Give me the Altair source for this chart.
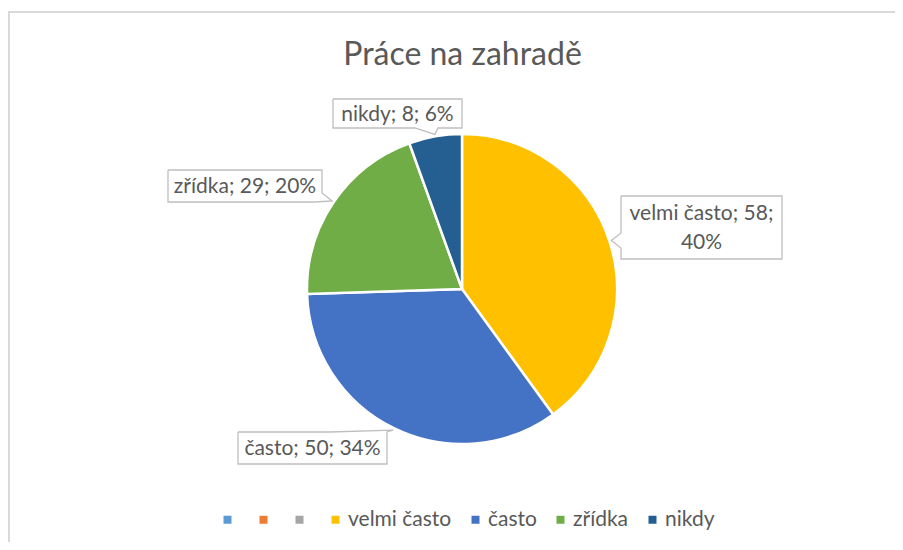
import math
import altair as alt
import pandas as pd

# ---------------- data ----------------
title_text = "Práce na zahradě"
categories = ["velmi často", "často", "zřídka", "nikdy"]
values = [58, 50, 29, 8]
blank_series = ["_1", "_2", "_3"]          # empty legend entries
palette = ["#5B9BD5", "#ED7D31", "#A5A5A5", "#FFC000", "#4472C4", "#70AD47", "#255E91"]

# ---------------- layout (page pixels) ----------------
RIGHT, BOTTOM = 895, 542          # drawable page area (8px margin)
CX, CY, R = 462, 289, 155
FONT = "Lato"
TXT = "#595959"
LINE_H = 29
box_x1 = [621, 238, 168, 333]
box_x2 = [782, 387, 322, 462]
box_y1 = [196, 432, 170, 99]
box_y2 = [259, 464, 202, 128]
wrap = [True, False, False, False]

total = sum(values)
pct = [round(v / total * 100) for v in values]

# label text
labels = []
for c, v, p, w in zip(categories, values, pct, wrap):
    sep = ";\n" if w else "; "
    labels.append(f"{c}; {v}{sep}{p}%")

# mid angles (clockwise from 12 o'clock)
mids = []
acc = 0
for v in values:
    a0 = acc / total * 2 * math.pi
    acc += v
    a1 = acc / total * 2 * math.pi
    mids.append((a0 + a1) / 2)

def polar(a, r):
    return CX + r * math.sin(a), CY - r * math.cos(a)

tips = [polar(m, 157) for m in mids]

# callout outlines
outline_rows = []
for i, c in enumerate(categories):
    x1, x2, y1, y2 = box_x1[i], box_x2[i], box_y1[i], box_y2[i]
    tx, ty = tips[i]
    if i == 0:   # notch on left edge
        pts = [(x1, y1), (x2, y1), (x2, y2), (x1, y2), (x1, 248), (tx, ty), (x1, 233), (x1, y1)]
    elif i == 1:  # wedge on top edge to the right corner
        pts = [(x1, y1), (330, y1), (tx, ty), (x2, y1), (x2, y2), (x1, y2), (x1, y1)]
    elif i == 2:  # notch at bottom-right corner
        pts = [(x1, y1), (x2, y1), (x2, 193), (tx, ty), (315, y2), (x1, y2), (x1, y1)]
    else:         # notch on bottom edge
        pts = [(x1, y1), (x2, y1), (x2, y2), (438, y2), (tx, ty), (415, y2), (x1, y2), (x1, y1)]
    for k, (px, py) in enumerate(pts):
        outline_rows.append({"cat": c, "seq": k, "x": px, "y": py})

pie_df = pd.DataFrame({"cat": categories, "value": values, "ord": list(range(len(values)))})
lab_df = pd.DataFrame({
    "cat": categories, "label": labels,
    "x1": box_x1, "x2": box_x2, "y1": box_y1, "y2": box_y2,
})
nlines = [lab.count("\n") + 1 for lab in labels]
lab_df["tx"] = (lab_df["x1"] + lab_df["x2"]) / 2
lab_df["ty"] = [(a + b) / 2 + 1 - (n - 1) * LINE_H / 2 for a, b, n in zip(box_y1, box_y2, nlines)]
out_df = pd.DataFrame(outline_rows)

xs = alt.Scale(domain=[8, RIGHT], nice=False, zero=False)
ys = alt.Scale(domain=[BOTTOM, 8], nice=False, zero=False)

color_domain = blank_series + categories

pie = alt.Chart(pie_df).mark_arc(outerRadius=R, stroke="white", strokeWidth=2.5).encode(
    theta=alt.Theta("value:Q", stack=True),
    order=alt.Order("ord:Q"),
    color=alt.Color(
        "cat:N",
        scale=alt.Scale(domain=color_domain, range=palette),
        legend=alt.Legend(
            title=None, orient="none", legendX=209, legendY=501,
            direction="horizontal", columns=7,
            symbolType="square", symbolSize=64, symbolStrokeWidth=0,
            labelFont=FONT, labelFontSize=21, labelColor=TXT,
            labelOffset=2, columnPadding=13, labelLimit=400,
            labelExpr="substring(datum.label,0,1)=='_' ? '' : datum.label",
        ),
    ),
    x=alt.value(CX - 8),
    y=alt.value(CY - 8),
)

fills = alt.Chart(lab_df).mark_rect(fill="white").encode(
    x=alt.X("x1:Q", scale=xs, axis=None), x2="x2:Q",
    y=alt.Y("y1:Q", scale=ys, axis=None), y2="y2:Q",
)

outlines = alt.Chart(out_df).mark_line(color="#BFBFBF", strokeWidth=1.3).encode(
    x=alt.X("x:Q", scale=xs, axis=None),
    y=alt.Y("y:Q", scale=ys, axis=None),
    detail="cat:N",
    order=alt.Order("seq:Q"),
)

texts = alt.Chart(lab_df).mark_text(
    font=FONT, fontSize=21, color=TXT, align="center", baseline="middle",
    lineBreak="\n", lineHeight=LINE_H,
).encode(
    x=alt.X("tx:Q", scale=xs, axis=None),
    y=alt.Y("ty:Q", scale=ys, axis=None),
    text="label:N",
)

title_df = pd.DataFrame({"t": [title_text], "x": [462.5], "y": [65]})
title = alt.Chart(title_df).mark_text(
    font=FONT, fontSize=32, color=TXT, align="center", baseline="alphabetic",
).encode(
    x=alt.X("x:Q", scale=xs, axis=None),
    y=alt.Y("y:Q", scale=ys, axis=None),
    text="t:N",
)

border_df = pd.DataFrame({"x": [8, 9], "x2": [RIGHT, 9], "y": [12, 11], "y2": [12, BOTTOM]})
border = alt.Chart(border_df).mark_rule(color="#D9D9D9", strokeWidth=2).encode(
    x=alt.X("x:Q", scale=xs, axis=None), x2="x2:Q",
    y=alt.Y("y:Q", scale=ys, axis=None), y2="y2:Q",
)

chart = alt.layer(border, pie, fills, outlines, texts, title).properties(
    width=RIGHT - 8, height=BOTTOM - 8,
    autosize=alt.AutoSizeParams(type="none"),
    padding=0,
    background="white",
).configure_view(stroke=None)

chart.save("out.html", embed_options={"renderer": "svg", "actions": False})
